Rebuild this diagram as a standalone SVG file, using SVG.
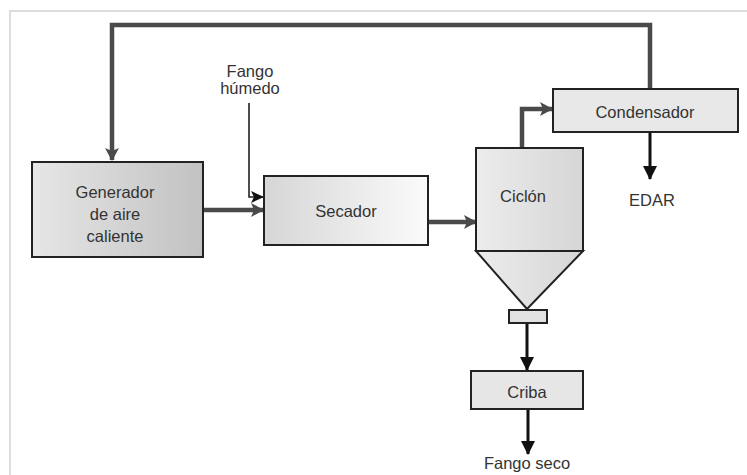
<svg xmlns="http://www.w3.org/2000/svg" width="747" height="475" viewBox="0 0 747 475">
<defs>
<style>
.box{stroke:#222;stroke-width:2}
.lbl{font-family:"Liberation Sans",Arial,sans-serif;font-size:16.5px;fill:#333;text-anchor:middle}
.gray{fill:none;stroke:#4a4a4a;stroke-width:4.5;stroke-linejoin:miter}
.blk{fill:none;stroke:#111;stroke-width:3}
.thin{fill:none;stroke:#222;stroke-width:1.6}
</style>
<linearGradient id="gGen" x1="0" y1="0" x2="1" y2="0"><stop offset="0" stop-color="#e6e6e6"/><stop offset="1" stop-color="#c2c2c2"/></linearGradient>
<linearGradient id="gSec" x1="0" y1="0" x2="1" y2="0"><stop offset="0" stop-color="#d6d6d6"/><stop offset="1" stop-color="#fbfbfb"/></linearGradient>
<linearGradient id="gCic" x1="0" y1="0" x2="1" y2="0"><stop offset="0" stop-color="#ececec"/><stop offset="1" stop-color="#d6d6d6"/></linearGradient>
<marker id="aG" markerUnits="userSpaceOnUse" markerWidth="14" markerHeight="14" refX="12" refY="7" orient="auto"><path d="M0,0 L13,7 L0,14 L3,7 Z" fill="#4a4a4a"/></marker>
<marker id="aB" markerUnits="userSpaceOnUse" markerWidth="14" markerHeight="14" refX="13" refY="7" orient="auto"><path d="M0,0 L14,7 L0,14 Z" fill="#111"/></marker>
<marker id="aT" markerUnits="userSpaceOnUse" markerWidth="14" markerHeight="14" refX="12" refY="7" orient="auto"><path d="M0,1 L13,7 L0,13 L3,7 Z" fill="#111"/></marker>
</defs>
<rect width="747" height="475" fill="#fff"/>
<path d="M10,475 V11 H747" fill="none" stroke="#ddd" stroke-width="2"/>

<g id="connectors">
<path class="gray" d="M650,88 V25 H112 V160" marker-end="url(#aG)"/>
<path class="gray" d="M203,210 H263" marker-end="url(#aG)"/>
<path class="thin" d="M249,103 V197 H263" marker-end="url(#aT)"/>
<path class="gray" d="M428,222 H476" marker-end="url(#aG)"/>
<path class="gray" d="M522,148 V109 H552" marker-end="url(#aG)"/>
<path class="blk" d="M650,133 V179" marker-end="url(#aB)"/>
<path class="blk" d="M527,323 V370" marker-end="url(#aB)"/>
<path class="blk" d="M528,409 V454" marker-end="url(#aB)"/>
</g>

<g id="generador">
<rect class="box" x="32" y="162" width="171" height="95" fill="url(#gGen)"/>
<text class="lbl" x="115" y="198">Generador</text>
<text class="lbl" x="115" y="220">de aire</text>
<text class="lbl" x="115" y="242">caliente</text>
</g>

<g id="fango-humedo">
<text class="lbl" x="250" y="77">Fango</text>
<text class="lbl" x="250" y="94">húmedo</text>
</g>

<g id="secador">
<rect class="box" x="264" y="176" width="164" height="69" fill="url(#gSec)"/>
<text class="lbl" x="346" y="217">Secador</text>
</g>

<g id="ciclon">
<rect class="box" x="476" y="148" width="107" height="103" fill="url(#gCic)"/>
<path class="box" d="M476,251 L583,251 L527,309 Z" fill="url(#gCic)"/>
<rect class="box" x="509" y="310" width="38" height="13" fill="#e2e2e2"/>
<text class="lbl" x="523" y="202">Ciclón</text>
</g>

<g id="condensador">
<rect class="box" x="553" y="89" width="185" height="43" fill="#e8e8e8"/>
<text class="lbl" x="645" y="118">Condensador</text>
</g>

<g id="edar">
<text class="lbl" x="652" y="206">EDAR</text>
</g>

<g id="criba">
<rect class="box" x="471" y="371" width="112" height="38" fill="#e6e6e6"/>
<text class="lbl" x="527" y="398">Criba</text>
</g>

<g id="fango-seco">
<text class="lbl" x="527" y="469">Fango seco</text>
</g>
</svg>
